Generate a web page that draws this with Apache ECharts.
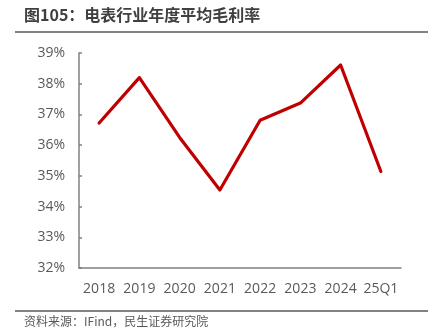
<!DOCTYPE html>
<html><head><meta charset="utf-8">
<script src="https://cdn.jsdelivr.net/npm/echarts@6/dist/echarts.min.js"></script>
<style>html,body{margin:0;padding:0;background:#fff}#c{width:433px;height:334px}</style>
</head><body><div id="c"></div>
<script>
const categories = ['2018','2019','2020','2021','2022','2023','2024','25Q1'];
const grossMargin = [36.72, 38.20, 36.25, 34.54, 36.81, 37.37, 38.61, 35.14];
const titleText = '图105：电表行业年度平均毛利率';
const sourceText = '资料来源：IFind，民生证券研究院';

const chart = echarts.init(document.getElementById('c'), null, {renderer:'canvas'});
const font = '"Open Sans","Noto Sans CJK SC",sans-serif';
chart.setOption({
  animation:false,
  textStyle:{fontFamily:font},
  grid:{left:79,right:32,top:53,bottom:66},
  xAxis:{type:'category',data:categories,boundaryGap:true,
    axisLine:{lineStyle:{color:'#808080',width:1.5}},
    axisTick:{show:false},
    axisLabel:{color:'#595959',fontSize:14,margin:14,interval:0,fontFamily:font,hideOverlap:false}},
  yAxis:{type:'value',min:32,max:39,interval:1,
    axisLine:{show:true,lineStyle:{color:'#808080',width:1.5}},
    axisTick:{show:true,inside:true,length:3,lineStyle:{color:'#808080',width:1.5}},
    splitLine:{show:false},
    axisLabel:{color:'#595959',fontSize:14,margin:14,fontFamily:font,formatter:v=>v+'%'}},
  series:[{type:'line',data:grossMargin,symbol:'none',
    lineStyle:{color:'#C00000',width:3.2,join:'round',cap:'round'}}],
  graphic:[
    {type:'text',left:24,top:7,style:{text:titleText,fill:'#404040',font:'bold 16px "Noto Sans CJK SC",sans-serif'}},
    {type:'line',shape:{x1:15,y1:32,x2:428,y2:32},style:{stroke:'#595959',lineWidth:1.5}},
    {type:'line',shape:{x1:15,y1:311,x2:428,y2:311},style:{stroke:'#595959',lineWidth:1.5}},
    {type:'text',left:24,top:315,style:{text:sourceText,fill:'#595959',font:'12px "Noto Sans CJK SC",sans-serif'}}
  ]
});
</script></body></html>
